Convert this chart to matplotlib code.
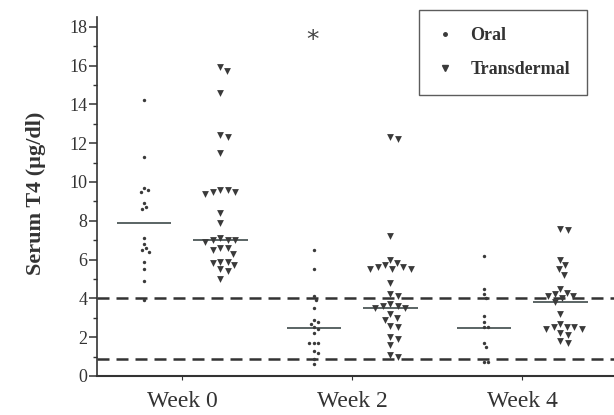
import numpy as np
import matplotlib
matplotlib.use("Agg")
import matplotlib.pyplot as plt
from matplotlib.lines import Line2D

plt.rcParams['font.family'] = ['Liberation Serif', 'DejaVu Serif']

# Serum T4 (ug/dl) per dog, oral vs transdermal, weeks 0/2/4
weeks = [0, 2, 4]
week_labels = ["Week 0", "Week 2", "Week 4"]

oral_w0 = [14.2, 11.3, 9.7, 9.6, 9.5, 8.9, 8.7, 8.6, 7.1, 6.8, 6.6, 6.5, 6.4,
           5.9, 5.5, 4.9, 3.9]
oral_w2 = [6.5, 5.5, 4.1, 3.9, 3.5, 2.9, 2.8, 2.7, 2.5, 2.4, 2.2, 1.7, 1.7, 1.7,
           1.3, 1.2, 0.9, 0.6]
oral_w4 = [6.2, 4.5, 4.2, 4.0, 3.1, 2.8, 2.5, 2.5, 1.7, 1.5, 0.7, 0.7]

trans_w0 = [15.9, 15.7, 14.6, 12.4, 12.3, 11.5, 9.6, 9.5, 9.4, 9.5, 9.6, 8.4,
            7.9, 7.1, 7.0, 7.0, 7.0, 6.9, 6.6, 6.5, 6.6, 6.3, 5.9, 5.8, 5.7,
            5.9, 5.5, 5.4, 5.0]
trans_w2 = [12.3, 12.2, 7.2, 6.0, 5.8, 5.7, 5.6, 5.5, 5.5, 5.6, 5.5, 4.8, 4.2,
            4.1, 3.7, 3.6, 3.5, 3.6, 3.5, 3.2, 3.0, 2.9, 2.6, 2.5, 2.0, 1.9,
            1.6, 1.1, 1.0]
trans_w4 = [7.6, 7.5, 6.0, 5.7, 5.5, 5.2, 4.5, 4.3, 4.2, 4.1, 4.1, 4.0, 3.8,
            3.2, 2.7, 2.5, 2.5, 2.4, 2.4, 2.5, 2.2, 2.1, 1.8, 1.7]

oral_center = [7.9, 2.45, 2.45]
trans_center = [7.0, 3.5, 3.8]

ref_range = [0.85, 4.0]


def swarm(values, spacing, sx, sy):
    """Beeswarm offsets in pixels: nearest free slot to the column centre."""
    vals = np.asarray(values, float) * sy
    offs = np.zeros(len(vals))
    placed = []
    cands = [0.0]
    for k in range(1, 200):
        cands += [k * 0.5, -k * 0.5]
    for i in np.argsort(-vals, kind="stable"):
        y = vals[i]
        for c in cands:
            if all((c - px) ** 2 + (y - py) ** 2 >= spacing ** 2 for px, py in placed):
                break
        placed.append((c, y))
        offs[i] = c
    return offs / sx


fig = plt.figure(figsize=(6.14, 4.15), dpi=100)
ax = fig.add_axes([0.158, 0.094, 0.842, 0.865])
ax.set_xlim(-1.0, 5.08)
ax.set_ylim(0, 18.5)

# pixels per data unit, for the swarm layout
p0 = ax.transData.transform((0, 0))
p1 = ax.transData.transform((1, 1))
sx, sy = p1[0] - p0[0], p1[1] - p0[1]

ink = "#3a3a3a"
oral_groups = [oral_w0, oral_w2, oral_w4]
trans_groups = [trans_w0, trans_w2, trans_w4]

for w, vals, m in zip(weeks, oral_groups, oral_center):
    x = w - 0.45
    ax.scatter(x + swarm(vals, 4.5, sx, sy), vals, s=6, marker="o",
               color=ink, linewidths=0, zorder=3)
    ax.hlines(m, x - 0.32, x + 0.32, color="#2e3b3b", lw=1.1, zorder=2)

for w, vals, m in zip(weeks, trans_groups, trans_center):
    x = w + 0.45
    ax.scatter(x + swarm(vals, 7.5, sx, sy), vals, s=24, marker="v",
               color=ink, linewidths=0, zorder=3)
    ax.hlines(m, x - 0.32, x + 0.32, color="#2e3b3b", lw=1.1, zorder=2)

for r in ref_range:
    ax.axhline(r, color="#333333", lw=1.8, dashes=(4.8, 2.8), zorder=1)

ax.text(1.53, 17.3, "*", fontsize=18, family="DejaVu Sans", color="#444444",
        ha="center", va="center")

for s in ["top", "right"]:
    ax.spines[s].set_visible(False)
ax.spines["left"].set_linewidth(1.2)
ax.spines["bottom"].set_linewidth(1.5)
ax.spines["left"].set_color("#333333")
ax.spines["bottom"].set_color("#333333")

ax.set_yticks(np.arange(0, 19, 2))
ax.set_yticks(np.arange(1, 19, 2), minor=True)
ax.tick_params(axis="y", which="major", length=6, width=1.1, pad=1,
               labelsize=13, colors="#333333")
ax.tick_params(axis="y", which="minor", length=3, width=1.0, colors="#333333")
ax.set_xticks(weeks)
ax.set_xticklabels(week_labels)
ax.tick_params(axis="x", length=3, width=0.8, pad=8, labelsize=17,
               colors="#333333")

ax.set_ylabel("Serum T4 (µg/dl)", fontsize=16, fontweight="bold",
              color="#333333")
ax.yaxis.set_label_coords(-0.098, 0.51)

handles = [
    Line2D([], [], ls="none", marker="o", ms=2.5, color=ink),
    Line2D([], [], ls="none", marker="v", ms=5, color=ink),
]
leg = ax.legend(handles, ["Oral", "Transdermal"], loc="upper right",
                bbox_to_anchor=(0.948, 1.02), frameon=True, fancybox=False,
                prop={"weight": "bold", "size": 13}, borderpad=0.95,
                labelspacing=0.95, handlelength=1.0, handletextpad=0.9,
                borderaxespad=0)
leg.get_frame().set_edgecolor("#333333")
leg.get_frame().set_linewidth(1.0)
for t in leg.get_texts():
    t.set_color("#333333")

fig.savefig("out.png", dpi=100)
